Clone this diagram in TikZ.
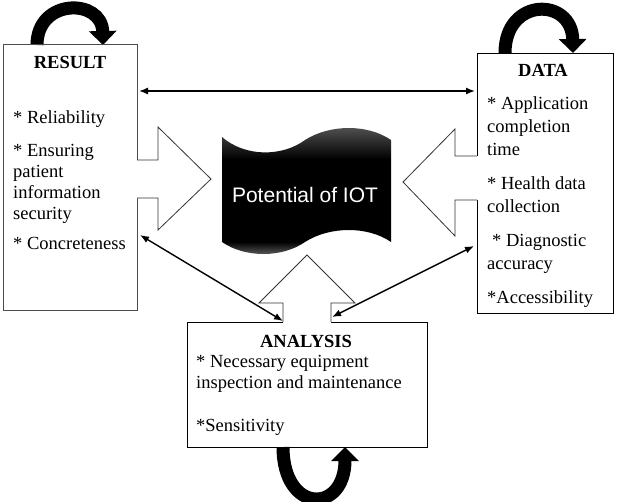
\documentclass[tikz,border=0pt]{standalone}
\usepackage{fontspec}
\setmainfont{Liberation Serif}
\newfontfamily\arialfont{Liberation Sans}
\usetikzlibrary{arrows.meta}

% dark tape, a little lighter at its top and bottom edges
\pgfdeclareverticalshading{tapeshade}{100bp}{color(0bp)=(black!55); color(25bp)=(black!55); color(31bp)=(black); color(62bp)=(black); color(75bp)=(black!65); color(100bp)=(black!65)}

\begin{document}
\begin{tikzpicture}[x=1pt, y=-1pt,
	box/.style={draw, line width=1pt, inner sep=0pt, anchor=north west},
	title/.style={font=\bfseries\fontsize{18.5}{21}\selectfont},
	items/.style={anchor=north west, inner sep=0pt, align=left},
	block/.style={draw=black!80, line width=0.8pt},
	link/.style={{Latex[length=9pt,width=7pt]}-{Latex[length=9pt,width=7pt]}, line width=1.4pt},
	loop/.style={line width=13pt, -{Triangle[length=14pt,width=27pt]}}]
	\useasboundingbox (0,0) rectangle (617,501);
	
	% self loops
	\draw[loop] (37,45) .. controls (37,-2) and (102,-2) .. (103,45);
	\draw[loop] (505,53) .. controls (505,-3) and (572,-3) .. (573,53);
	\draw[loop] (283,447) .. controls (283,514) and (345,514) .. (345,447);
	
	% the three boxes
	\node[box, draw=black!70, line width=1.4pt, minimum width=134pt, minimum height=266pt] (result) at (3,44) {};
	\node[box, minimum width=136pt, minimum height=260pt] (data) at (477,53) {};
	\node[box, minimum width=240pt, minimum height=125pt] (analysis) at (187,322) {};
	
	\node[title] (rtitle) at (70,62) {RESULT};
	\node[title] (dtitle) at (543,70) {DATA};
	\node[title] (atitle) at (306,341) {ANALYSIS};
	
	\node[items, font=\fontsize{18.5}{21}\selectfont] (rlist) at (13,110) {* Reliability\\[12pt] * Ensuring\\ patient\\ information\\ security\\[9pt] * Concreteness};
	\node[items, font=\fontsize{18.5}{23}\selectfont] (dlist) at (487,96) {* Application\\ completion\\ time\\[11pt] * Health data\\ collection\\[11pt] \hspace*{5pt}* Diagnostic\\ accuracy\\[11pt] *Accessibility};
	\node[items, font=\fontsize{18.5}{21}\selectfont] (alist) at (196,355) {* Necessary equipment\\ inspection and maintenance\\[22pt] *Sensitivity};
	
	% block arrows into the centre
	\fill[white] (136,160) -- (158,160) -- (158,127) -- (211,179) -- (158,230) -- (158,198) -- (136,198) -- cycle;
	\draw[block] (137,160) -- (158,160) -- (158,127) -- (211,179) -- (158,230) -- (158,198) -- (137,198);
	\fill[white] (478,156) -- (455,156) -- (455,129) -- (403,182) -- (455,236) -- (455,200) -- (478,200) -- cycle;
	\draw[block] (477,156) -- (455,156) -- (455,129) -- (403,182) -- (455,236) -- (455,200) -- (477,200);
	\fill[white] (283,323) -- (283,303) -- (259,303) -- (307,255) -- (355,303) -- (331,303) -- (331,323) -- cycle;
	\draw[block] (283,322) -- (283,303) -- (259,303) -- (307,255) -- (355,303) -- (331,303) -- (331,322);
	
	% centre tape
	\shade[shading=tapeshade] (222,137) .. controls (245,157) and (282,157) .. (305,140) .. controls (330,124) and (368,124) .. (391,140) -- (391,242) .. controls (368,226) and (330,226) .. (305,242) .. controls (282,258) and (245,258) .. (222,242) -- cycle;
	\node[text=white, font=\arialfont\fontsize{21}{25}\selectfont] (iot) at (305,195) {Potential of IOT};
	
	% two-way links
	\coordinate (rtop) at (139,91);
	\coordinate (dtop) at (475,91);
	\coordinate (rlow) at (140,235);
	\coordinate (aleft) at (283,321);
	\coordinate (aright) at (332,317);
	\coordinate (dlow) at (474,246);
	\draw[link] (rtop) -- (dtop);
	\draw[link] (rlow) -- (aleft);
	\draw[link] (aright) -- (dlow);
\end{tikzpicture}
\end{document}
